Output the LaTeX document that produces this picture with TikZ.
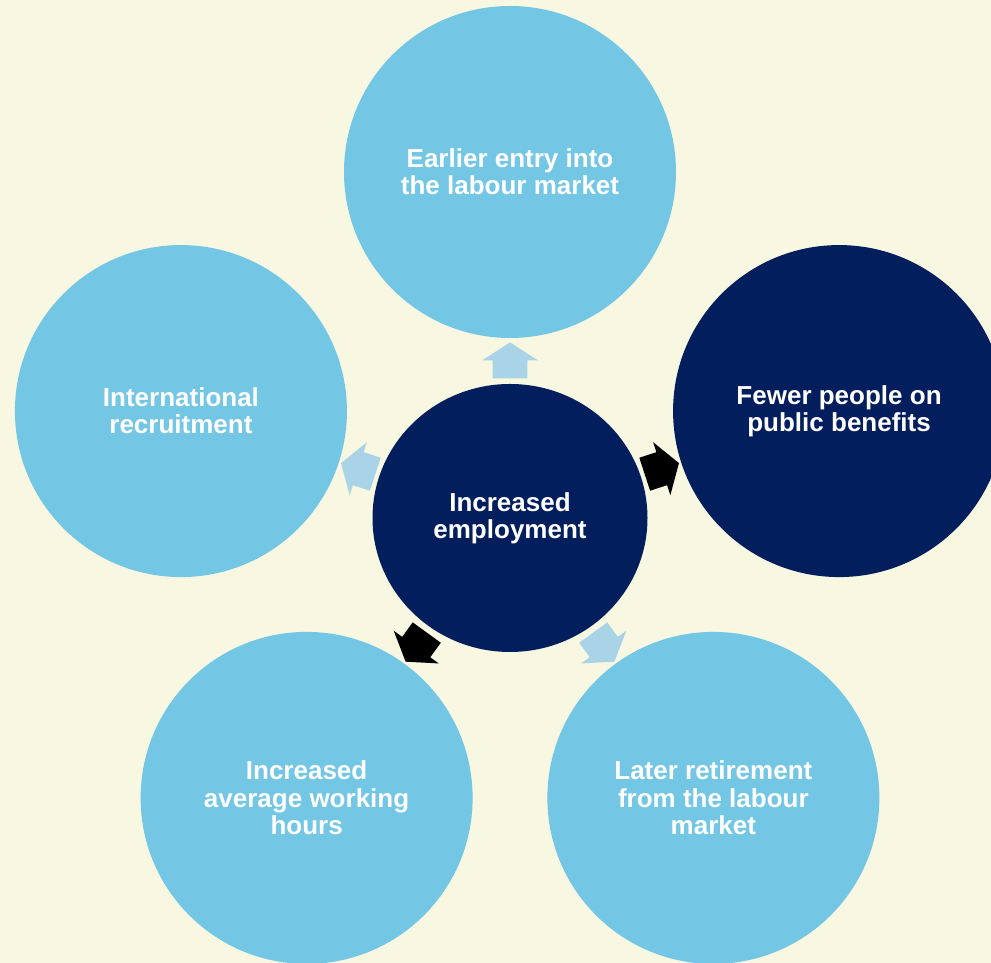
\documentclass[tikz,border=0pt]{standalone}
\usepackage{fontspec}
\setmainfont{Liberation Sans}
\usetikzlibrary{shapes.arrows,shapes.geometric,calc}

\definecolor{cream}{HTML}{F8F7E1}
\definecolor{skyblue}{HTML}{73C7E4}
\definecolor{navyblue}{HTML}{031E5C}
\definecolor{paleblue}{HTML}{A9D3E6}

\begin{document}
\begin{tikzpicture}[
    every node/.style={font=\fontsize{14.8}{15.5}\selectfont\bfseries,text=white,align=center},
    bubble/.style={circle,minimum size=6.64cm,inner sep=0pt},
    light/.style={bubble,fill=skyblue},
    dark/.style={bubble,fill=navyblue},
    hub/.style={ellipse,minimum width=5.5cm,minimum height=5.36cm,inner sep=0pt,fill=navyblue},
    blockarrow/.style={single arrow,draw=none,inner xsep=0pt,inner ysep=0.34cm,
      minimum height=0.72cm,single arrow head extend=0.21cm,single arrow tip angle=114}]
  \path[use as bounding box,fill=cream] (0,0) rectangle (19.82,19.26);
  \clip (0,0) rectangle (19.82,19.26);

  \node[hub] (emp) at (10.2,8.9) {Increased\\employment};

  \node[light] (entry)   at ($(emp)+(90:6.92)$)  {Earlier entry into\\the labour market};
  \node[dark]  (fewer)   at ($(emp)+(18:6.92)$)  {Fewer people on\\public benefits};
  \node[light] (later)   at ($(emp)+(-54:6.92)$) {Later retirement\\from the labour\\market};
  \node[light] (hours)   at ($(emp)+(234:6.92)$) {Increased\\average working\\hours};
  \node[light] (intl)    at ($(emp)+(162:6.92)$) {International\\recruitment};

  % arrows pointing out from the hub
  \node[blockarrow,fill=paleblue,rotate=90]  (a1) at ($(emp)+(90:3.04)$)  {};
  \node[blockarrow,fill=black,rotate=18]     (a2) at ($(emp)+(18:3.08)$)  {};
  \node[blockarrow,fill=paleblue,rotate=-54] (a3) at ($(emp)+(-54:3.08)$) {};
  \node[blockarrow,fill=black,rotate=234]    (a4) at ($(emp)+(234:3.08)$) {};
  \node[blockarrow,fill=paleblue,rotate=162] (a5) at ($(emp)+(162:3.08)$) {};
\end{tikzpicture}
\end{document}
